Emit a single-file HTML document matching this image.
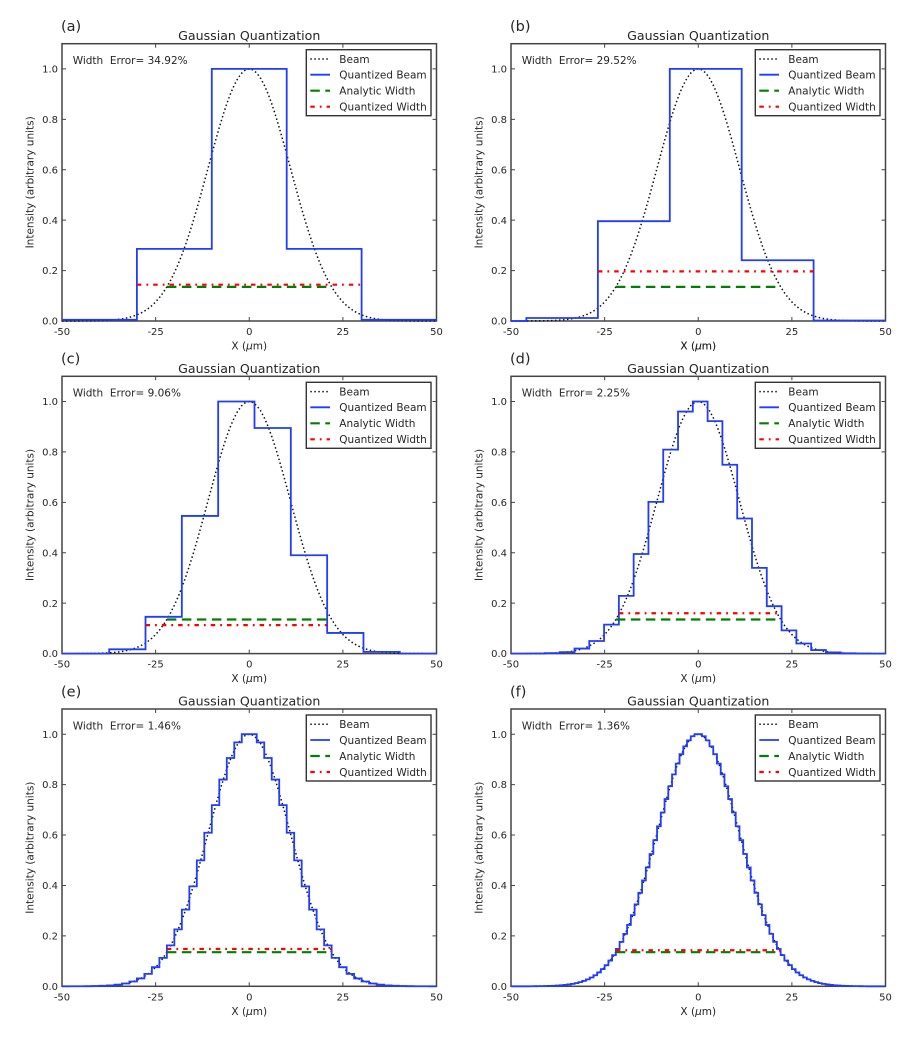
<!DOCTYPE html>
<html><head><meta charset="utf-8"><style>
html,body{margin:0;padding:0;background:#fff;}
svg{display:block;}
text{font-family:"DejaVu Sans","Liberation Sans",sans-serif;fill:#262626;}
.pl{font-size:14.5px;}
.ti{font-size:12.6px;text-anchor:middle;}
.tk{font-size:10px;}
.ty{font-size:10px;text-anchor:end;}
.tx{font-size:10px;text-anchor:middle;}
.lg{font-size:10.5px;}
.ax{font-size:10.5px;text-anchor:middle;}
.fr{fill:none;stroke:#444;stroke-width:1.5;}
.tc{fill:none;stroke:#444;stroke-width:1;}
.bm{fill:none;stroke:#111;stroke-width:1.5;stroke-dasharray:1.5 2.5;}
.bl{fill:none;stroke:#1f3cff;stroke-width:1.8;}
.gr{fill:none;stroke:#008000;stroke-width:2.2;stroke-dasharray:9.5 5.5;}
.rd{fill:none;stroke:#ff0000;stroke-width:2.2;stroke-dasharray:4.5 5 1.8 5;}
.lf{fill:#fff;stroke:#333;stroke-width:1.4;}
</style></head><body>
<svg width="921" height="1058" viewBox="0 0 921 1058" xmlns="http://www.w3.org/2000/svg">

<!-- ============ PANEL A ============ -->
<g transform="translate(62,321)">
<text class="pl" x="-1" y="-290">(a)</text>
<text class="ti" x="187.25" y="-280.8">Gaussian Quantization</text>
<rect class="fr" x="0" y="-277.3" width="374.5" height="277.3"/>
<path class="tc" d="M93.63,0v-4M187.25,0v-4M280.88,0v-4M93.63,-277.3v4M187.25,-277.3v4M280.88,-277.3v4M0,-50.42h4M0,-100.84h4M0,-151.26h4M0,-201.68h4M0,-252.1h4M374.5,-50.42h-4M374.5,-100.84h-4M374.5,-151.26h-4M374.5,-201.68h-4M374.5,-252.1h-4"/>
<text class="ty" x="-4" y="3.6">0.0</text><text class="ty" x="-4" y="-46.8">0.2</text><text class="ty" x="-4" y="-97.2">0.4</text><text class="ty" x="-4" y="-147.7">0.6</text><text class="ty" x="-4" y="-198.1">0.8</text><text class="ty" x="-4" y="-248.5">1.0</text>
<text class="tx" x="0" y="14">-50</text><text class="tx" x="93.63" y="14">-25</text><text class="tx" x="187.25" y="14">0</text><text class="tx" x="280.88" y="14">25</text><text class="tx" x="374.5" y="14">50</text>
<text class="ax" transform="translate(-28.3,-138.65) rotate(-90)">Intensity (arbitrary units)</text>
<path class="bm" d="M0,0 L7.49,-0.02 14.98,-0.04 22.47,-0.08 29.96,-0.17 37.45,-0.34 41.2,-0.47 44.94,-0.65 48.69,-0.88 52.43,-1.19 56.18,-1.6 59.92,-2.12 63.67,-2.8 67.41,-3.66 71.16,-4.75 74.9,-6.12 78.65,-7.8 82.39,-9.87 86.14,-12.4 89.88,-15.43 93.63,-19.05 97.37,-23.33 101.12,-28.33 104.86,-34.12 108.61,-40.75 112.35,-48.28 116.1,-56.71 119.84,-66.09 123.59,-76.37 127.33,-87.53 131.08,-99.49 134.82,-112.16 138.57,-125.4 142.31,-139.05 146.06,-152.91 149.8,-166.77 153.55,-180.39 157.29,-193.52 161.04,-205.89 164.78,-217.25 168.53,-227.36 172.27,-235.97 176.02,-242.9 179.76,-247.97 183.51,-251.06 187.25,-252.1 191,-251.06 194.74,-247.97 198.49,-242.9 202.23,-235.97 205.98,-227.36 209.72,-217.25 213.47,-205.89 217.21,-193.52 220.96,-180.39 224.7,-166.77 228.45,-152.91 232.19,-139.05 235.94,-125.4 239.68,-112.16 243.43,-99.49 247.17,-87.53 250.92,-76.37 254.66,-66.09 258.41,-56.71 262.15,-48.28 265.9,-40.75 269.64,-34.12 273.39,-28.33 277.13,-23.33 280.88,-19.05 284.62,-15.43 288.37,-12.4 292.11,-9.87 295.86,-7.8 299.6,-6.12 303.35,-4.75 307.09,-3.66 310.84,-2.8 314.58,-2.12 318.33,-1.6 322.07,-1.19 325.82,-0.88 329.56,-0.65 333.31,-0.47 337.05,-0.34 344.54,-0.17 352.03,-0.08 359.52,-0.04 367.01,-0.02 374.5,0"/>
<path class="bl" d="M0,-1.26 H74.9 V-72.1 H149.8 V-252.1 H224.7 V-72.1 H299.6 V-1.26 H374.5"/>
<path class="gr" d="M104.86,-34.12 H269.64"/>
<path class="rd" d="M74.9,-36.3 H299.6"/>
<text class="lg" x="10.7" y="-257">Width&#160; Error= 34.92%</text>
<rect class="lf" x="244.3" y="-271.3" width="124.7" height="66"/>
<path class="bm" d="M248.3,-262 H268"/><path class="bl" d="M248.3,-246.3 H268"/><path class="gr" d="M248.3,-230.3 H268"/><path class="rd" d="M248.3,-214.3 H268"/>
<text class="lg" x="277.3" y="-258.1">Beam</text><text class="lg" x="277.3" y="-242.4">Quantized Beam</text><text class="lg" x="277.3" y="-226.4">Analytic Width</text><text class="lg" x="277.3" y="-210.4">Quantized Width</text>
</g>

<!-- ============ PANEL B ============ -->
<g transform="translate(511,321)">
<text class="pl" x="-1" y="-290">(b)</text>
<text class="ti" x="187.25" y="-280.8">Gaussian Quantization</text>
<rect class="fr" x="0" y="-277.3" width="374.5" height="277.3"/>
<path class="tc" d="M93.63,0v-4M187.25,0v-4M280.88,0v-4M93.63,-277.3v4M187.25,-277.3v4M280.88,-277.3v4M0,-50.42h4M0,-100.84h4M0,-151.26h4M0,-201.68h4M0,-252.1h4M374.5,-50.42h-4M374.5,-100.84h-4M374.5,-151.26h-4M374.5,-201.68h-4M374.5,-252.1h-4"/>
<text class="ty" x="-4" y="3.6">0.0</text><text class="ty" x="-4" y="-46.8">0.2</text><text class="ty" x="-4" y="-97.2">0.4</text><text class="ty" x="-4" y="-147.7">0.6</text><text class="ty" x="-4" y="-198.1">0.8</text><text class="ty" x="-4" y="-248.5">1.0</text>
<text class="tx" x="0" y="14">-50</text><text class="tx" x="93.63" y="14">-25</text><text class="tx" x="187.25" y="14">0</text><text class="tx" x="280.88" y="14">25</text><text class="tx" x="374.5" y="14">50</text>
<text class="ax" x="187.25" y="28.5">X (<tspan font-style="italic">μ</tspan>m)</text>
<text class="ax" transform="translate(-28.3,-138.65) rotate(-90)">Intensity (arbitrary units)</text>
<path class="bm" d="M0,0 L7.49,-0.02 14.98,-0.04 22.47,-0.08 29.96,-0.17 37.45,-0.34 41.2,-0.47 44.94,-0.65 48.69,-0.88 52.43,-1.19 56.18,-1.6 59.92,-2.12 63.67,-2.8 67.41,-3.66 71.16,-4.75 74.9,-6.12 78.65,-7.8 82.39,-9.87 86.14,-12.4 89.88,-15.43 93.63,-19.05 97.37,-23.33 101.12,-28.33 104.86,-34.12 108.61,-40.75 112.35,-48.28 116.1,-56.71 119.84,-66.09 123.59,-76.37 127.33,-87.53 131.08,-99.49 134.82,-112.16 138.57,-125.4 142.31,-139.05 146.06,-152.91 149.8,-166.77 153.55,-180.39 157.29,-193.52 161.04,-205.89 164.78,-217.25 168.53,-227.36 172.27,-235.97 176.02,-242.9 179.76,-247.97 183.51,-251.06 187.25,-252.1 191,-251.06 194.74,-247.97 198.49,-242.9 202.23,-235.97 205.98,-227.36 209.72,-217.25 213.47,-205.89 217.21,-193.52 220.96,-180.39 224.7,-166.77 228.45,-152.91 232.19,-139.05 235.94,-125.4 239.68,-112.16 243.43,-99.49 247.17,-87.53 250.92,-76.37 254.66,-66.09 258.41,-56.71 262.15,-48.28 265.9,-40.75 269.64,-34.12 273.39,-28.33 277.13,-23.33 280.88,-19.05 284.62,-15.43 288.37,-12.4 292.11,-9.87 295.86,-7.8 299.6,-6.12 303.35,-4.75 307.09,-3.66 310.84,-2.8 314.58,-2.12 318.33,-1.6 322.07,-1.19 325.82,-0.88 329.56,-0.65 333.31,-0.47 337.05,-0.34 344.54,-0.17 352.03,-0.08 359.52,-0.04 367.01,-0.02 374.5,0"/>
<path class="bl" d="M0,0 H15.35 V-3.03 H86.88 V-99.83 H158.79 V-252.1 H230.69 V-60.76 H302.6 V-0.5 H374.5"/>
<path class="gr" d="M104.86,-34.12 H269.64"/>
<path class="rd" d="M86.88,-49.66 H302.6"/>
<text class="lg" x="10.7" y="-257">Width&#160; Error= 29.52%</text>
<rect class="lf" x="244.3" y="-271.3" width="124.7" height="66"/>
<path class="bm" d="M248.3,-262 H268"/><path class="bl" d="M248.3,-246.3 H268"/><path class="gr" d="M248.3,-230.3 H268"/><path class="rd" d="M248.3,-214.3 H268"/>
<text class="lg" x="277.3" y="-258.1">Beam</text><text class="lg" x="277.3" y="-242.4">Quantized Beam</text><text class="lg" x="277.3" y="-226.4">Analytic Width</text><text class="lg" x="277.3" y="-210.4">Quantized Width</text>
</g>

<!-- ============ PANEL C ============ -->
<g transform="translate(62,653.6)">
<text class="pl" x="-1" y="-290">(c)</text>
<text class="ti" x="187.25" y="-280.8">Gaussian Quantization</text>
<rect class="fr" x="0" y="-277.3" width="374.5" height="277.3"/>
<path class="tc" d="M93.63,0v-4M187.25,0v-4M280.88,0v-4M93.63,-277.3v4M187.25,-277.3v4M280.88,-277.3v4M0,-50.42h4M0,-100.84h4M0,-151.26h4M0,-201.68h4M0,-252.1h4M374.5,-50.42h-4M374.5,-100.84h-4M374.5,-151.26h-4M374.5,-201.68h-4M374.5,-252.1h-4"/>
<text class="ty" x="-4" y="3.6">0.0</text><text class="ty" x="-4" y="-46.8">0.2</text><text class="ty" x="-4" y="-97.2">0.4</text><text class="ty" x="-4" y="-147.7">0.6</text><text class="ty" x="-4" y="-198.1">0.8</text><text class="ty" x="-4" y="-248.5">1.0</text>
<text class="tx" x="0" y="14">-50</text><text class="tx" x="93.63" y="14">-25</text><text class="tx" x="187.25" y="14">0</text><text class="tx" x="280.88" y="14">25</text><text class="tx" x="374.5" y="14">50</text>
<text class="ax" x="187.25" y="-304.1">X (<tspan font-style="italic">μ</tspan>m)</text>
<text class="ax" transform="translate(-28.3,-138.65) rotate(-90)">Intensity (arbitrary units)</text>
<path class="bm" d="M0,0 L7.49,-0.02 14.98,-0.04 22.47,-0.08 29.96,-0.17 37.45,-0.34 41.2,-0.47 44.94,-0.65 48.69,-0.88 52.43,-1.19 56.18,-1.6 59.92,-2.12 63.67,-2.8 67.41,-3.66 71.16,-4.75 74.9,-6.12 78.65,-7.8 82.39,-9.87 86.14,-12.4 89.88,-15.43 93.63,-19.05 97.37,-23.33 101.12,-28.33 104.86,-34.12 108.61,-40.75 112.35,-48.28 116.1,-56.71 119.84,-66.09 123.59,-76.37 127.33,-87.53 131.08,-99.49 134.82,-112.16 138.57,-125.4 142.31,-139.05 146.06,-152.91 149.8,-166.77 153.55,-180.39 157.29,-193.52 161.04,-205.89 164.78,-217.25 168.53,-227.36 172.27,-235.97 176.02,-242.9 179.76,-247.97 183.51,-251.06 187.25,-252.1 191,-251.06 194.74,-247.97 198.49,-242.9 202.23,-235.97 205.98,-227.36 209.72,-217.25 213.47,-205.89 217.21,-193.52 220.96,-180.39 224.7,-166.77 228.45,-152.91 232.19,-139.05 235.94,-125.4 239.68,-112.16 243.43,-99.49 247.17,-87.53 250.92,-76.37 254.66,-66.09 258.41,-56.71 262.15,-48.28 265.9,-40.75 269.64,-34.12 273.39,-28.33 277.13,-23.33 280.88,-19.05 284.62,-15.43 288.37,-12.4 292.11,-9.87 295.86,-7.8 299.6,-6.12 303.35,-4.75 307.09,-3.66 310.84,-2.8 314.58,-2.12 318.33,-1.6 322.07,-1.19 325.82,-0.88 329.56,-0.65 333.31,-0.47 337.05,-0.34 344.54,-0.17 352.03,-0.08 359.52,-0.04 367.01,-0.02 374.5,0"/>
<path class="bl" d="M0,0 H47.19 V-4.29 H83.51 V-36.81 H119.84 V-137.65 H156.17 V-252.1 H192.49 V-225.63 H228.82 V-98.32 H265.15 V-20.67 H301.47 V-1.76 H337.8 V0 H374.5"/>
<path class="gr" d="M104.86,-34.12 H269.64"/>
<path class="rd" d="M83.51,-28.49 H265.15"/>
<text class="lg" x="10.7" y="-257">Width&#160; Error= 9.06%</text>
<rect class="lf" x="244.3" y="-271.3" width="124.7" height="66"/>
<path class="bm" d="M248.3,-262 H268"/><path class="bl" d="M248.3,-246.3 H268"/><path class="gr" d="M248.3,-230.3 H268"/><path class="rd" d="M248.3,-214.3 H268"/>
<text class="lg" x="277.3" y="-258.1">Beam</text><text class="lg" x="277.3" y="-242.4">Quantized Beam</text><text class="lg" x="277.3" y="-226.4">Analytic Width</text><text class="lg" x="277.3" y="-210.4">Quantized Width</text>
</g>

<!-- ============ PANEL D ============ -->
<g transform="translate(511,653.6)">
<text class="pl" x="-1" y="-290">(d)</text>
<text class="ti" x="187.25" y="-280.8">Gaussian Quantization</text>
<rect class="fr" x="0" y="-277.3" width="374.5" height="277.3"/>
<path class="tc" d="M93.63,0v-4M187.25,0v-4M280.88,0v-4M93.63,-277.3v4M187.25,-277.3v4M280.88,-277.3v4M0,-50.42h4M0,-100.84h4M0,-151.26h4M0,-201.68h4M0,-252.1h4M374.5,-50.42h-4M374.5,-100.84h-4M374.5,-151.26h-4M374.5,-201.68h-4M374.5,-252.1h-4"/>
<text class="ty" x="-4" y="3.6">0.0</text><text class="ty" x="-4" y="-46.8">0.2</text><text class="ty" x="-4" y="-97.2">0.4</text><text class="ty" x="-4" y="-147.7">0.6</text><text class="ty" x="-4" y="-198.1">0.8</text><text class="ty" x="-4" y="-248.5">1.0</text>
<text class="tx" x="0" y="14">-50</text><text class="tx" x="93.63" y="14">-25</text><text class="tx" x="187.25" y="14">0</text><text class="tx" x="280.88" y="14">25</text><text class="tx" x="374.5" y="14">50</text>
<text class="ax" x="187.25" y="28.5">X (<tspan font-style="italic">μ</tspan>m)</text>
<text class="ax" x="187.25" y="-304.1">X (<tspan font-style="italic">μ</tspan>m)</text>
<text class="ax" transform="translate(-28.3,-138.65) rotate(-90)">Intensity (arbitrary units)</text>
<path class="bm" d="M0,0 L7.49,-0.02 14.98,-0.04 22.47,-0.08 29.96,-0.17 37.45,-0.34 41.2,-0.47 44.94,-0.65 48.69,-0.88 52.43,-1.19 56.18,-1.6 59.92,-2.12 63.67,-2.8 67.41,-3.66 71.16,-4.75 74.9,-6.12 78.65,-7.8 82.39,-9.87 86.14,-12.4 89.88,-15.43 93.63,-19.05 97.37,-23.33 101.12,-28.33 104.86,-34.12 108.61,-40.75 112.35,-48.28 116.1,-56.71 119.84,-66.09 123.59,-76.37 127.33,-87.53 131.08,-99.49 134.82,-112.16 138.57,-125.4 142.31,-139.05 146.06,-152.91 149.8,-166.77 153.55,-180.39 157.29,-193.52 161.04,-205.89 164.78,-217.25 168.53,-227.36 172.27,-235.97 176.02,-242.9 179.76,-247.97 183.51,-251.06 187.25,-252.1 191,-251.06 194.74,-247.97 198.49,-242.9 202.23,-235.97 205.98,-227.36 209.72,-217.25 213.47,-205.89 217.21,-193.52 220.96,-180.39 224.7,-166.77 228.45,-152.91 232.19,-139.05 235.94,-125.4 239.68,-112.16 243.43,-99.49 247.17,-87.53 250.92,-76.37 254.66,-66.09 258.41,-56.71 262.15,-48.28 265.9,-40.75 269.64,-34.12 273.39,-28.33 277.13,-23.33 280.88,-19.05 284.62,-15.43 288.37,-12.4 292.11,-9.87 295.86,-7.8 299.6,-6.12 303.35,-4.75 307.09,-3.66 310.84,-2.8 314.58,-2.12 318.33,-1.6 322.07,-1.19 325.82,-0.88 329.56,-0.65 333.31,-0.47 337.05,-0.34 344.54,-0.17 352.03,-0.08 359.52,-0.04 367.01,-0.02 374.5,0"/>
<path class="bl" d="M0,0 H19.1 V-0.13 H33.89 V-0.5 H48.69 V-1.51 H63.48 V-5.04 H78.27 V-12.6 H93.06 V-28.99 H107.86 V-57.73 H122.65 V-99.58 H137.44 V-151.76 H152.23 V-203.95 H167.03 V-242.02 H181.82 V-252.1 H196.61 V-232.44 H211.41 V-188.82 H226.2 V-135.13 H240.99 V-85.71 H255.78 V-47.39 H270.58 V-23.19 H285.37 V-10.08 H300.16 V-3.53 H314.95 V-1.26 H329.75 V-0.3 H344.54 V-0.08 H359.33 V0 H374.5"/>
<path class="gr" d="M104.86,-34.12 H269.64"/>
<path class="rd" d="M107.86,-40.34 H267.02"/>
<text class="lg" x="10.7" y="-257">Width&#160; Error= 2.25%</text>
<rect class="lf" x="244.3" y="-271.3" width="124.7" height="66"/>
<path class="bm" d="M248.3,-262 H268"/><path class="bl" d="M248.3,-246.3 H268"/><path class="gr" d="M248.3,-230.3 H268"/><path class="rd" d="M248.3,-214.3 H268"/>
<text class="lg" x="277.3" y="-258.1">Beam</text><text class="lg" x="277.3" y="-242.4">Quantized Beam</text><text class="lg" x="277.3" y="-226.4">Analytic Width</text><text class="lg" x="277.3" y="-210.4">Quantized Width</text>
</g>

<!-- ============ PANEL E ============ -->
<g transform="translate(62,986.3)">
<text class="pl" x="-1" y="-290">(e)</text>
<text class="ti" x="187.25" y="-280.8">Gaussian Quantization</text>
<rect class="fr" x="0" y="-277.3" width="374.5" height="277.3"/>
<path class="tc" d="M93.63,0v-4M187.25,0v-4M280.88,0v-4M93.63,-277.3v4M187.25,-277.3v4M280.88,-277.3v4M0,-50.42h4M0,-100.84h4M0,-151.26h4M0,-201.68h4M0,-252.1h4M374.5,-50.42h-4M374.5,-100.84h-4M374.5,-151.26h-4M374.5,-201.68h-4M374.5,-252.1h-4"/>
<text class="ty" x="-4" y="3.6">0.0</text><text class="ty" x="-4" y="-46.8">0.2</text><text class="ty" x="-4" y="-97.2">0.4</text><text class="ty" x="-4" y="-147.7">0.6</text><text class="ty" x="-4" y="-198.1">0.8</text><text class="ty" x="-4" y="-248.5">1.0</text>
<text class="tx" x="0" y="14">-50</text><text class="tx" x="93.63" y="14">-25</text><text class="tx" x="187.25" y="14">0</text><text class="tx" x="280.88" y="14">25</text><text class="tx" x="374.5" y="14">50</text>
<text class="ax" x="187.25" y="28.5">X (<tspan font-style="italic">μ</tspan>m)</text>
<text class="ax" x="187.25" y="-304.2">X (<tspan font-style="italic">μ</tspan>m)</text>
<text class="ax" transform="translate(-28.3,-138.65) rotate(-90)">Intensity (arbitrary units)</text>
<path class="bm" d="M0,0 L7.49,-0.02 14.98,-0.04 22.47,-0.08 29.96,-0.17 37.45,-0.34 41.2,-0.47 44.94,-0.65 48.69,-0.88 52.43,-1.19 56.18,-1.6 59.92,-2.12 63.67,-2.8 67.41,-3.66 71.16,-4.75 74.9,-6.12 78.65,-7.8 82.39,-9.87 86.14,-12.4 89.88,-15.43 93.63,-19.05 97.37,-23.33 101.12,-28.33 104.86,-34.12 108.61,-40.75 112.35,-48.28 116.1,-56.71 119.84,-66.09 123.59,-76.37 127.33,-87.53 131.08,-99.49 134.82,-112.16 138.57,-125.4 142.31,-139.05 146.06,-152.91 149.8,-166.77 153.55,-180.39 157.29,-193.52 161.04,-205.89 164.78,-217.25 168.53,-227.36 172.27,-235.97 176.02,-242.9 179.76,-247.97 183.51,-251.06 187.25,-252.1 191,-251.06 194.74,-247.97 198.49,-242.9 202.23,-235.97 205.98,-227.36 209.72,-217.25 213.47,-205.89 217.21,-193.52 220.96,-180.39 224.7,-166.77 228.45,-152.91 232.19,-139.05 235.94,-125.4 239.68,-112.16 243.43,-99.49 247.17,-87.53 250.92,-76.37 254.66,-66.09 258.41,-56.71 262.15,-48.28 265.9,-40.75 269.64,-34.12 273.39,-28.33 277.13,-23.33 280.88,-19.05 284.62,-15.43 288.37,-12.4 292.11,-9.87 295.86,-7.8 299.6,-6.12 303.35,-4.75 307.09,-3.66 310.84,-2.8 314.58,-2.12 318.33,-1.6 322.07,-1.19 325.82,-0.88 329.56,-0.65 333.31,-0.47 337.05,-0.34 344.54,-0.17 352.03,-0.08 359.52,-0.04 367.01,-0.02 374.5,0"/>
<path class="bl" d="M0,0 H7.49 V-0.03 H14.98 V-0.06 H22.47 V-0.12 H29.96 V-0.24 H37.45 V-0.47 H44.94 V-0.88 H52.43 V-1.6 H59.92 V-2.81 H67.41 V-4.77 H74.9 V-7.84 H82.39 V-12.45 H89.88 V-19.13 H97.37 V-28.45 H104.86 V-40.92 H112.35 V-56.95 H119.84 V-76.69 H127.33 V-99.9 H134.82 V-125.92 H142.31 V-153.54 H149.8 V-181.14 H157.29 V-206.74 H164.78 V-228.3 H172.27 V-243.9 H179.76 V-252.1 H194.74 V-243.9 H202.23 V-228.3 H209.72 V-206.74 H217.21 V-181.14 H224.7 V-153.54 H232.19 V-125.92 H239.68 V-99.9 H247.17 V-76.69 H254.66 V-56.95 H262.15 V-40.92 H269.64 V-28.45 H277.13 V-19.13 H284.62 V-12.45 H292.11 V-7.84 H299.6 V-4.77 H307.09 V-2.81 H314.58 V-1.6 H322.07 V-0.88 H329.56 V-0.47 H337.05 V-0.24 H344.54 V-0.12 H352.03 V-0.06 H359.52 V-0.03 H367.01 V0 H374.5"/>
<path class="gr" d="M104.86,-34.12 H269.64"/>
<path class="rd" d="M104.86,-37.31 H269.64"/>
<text class="lg" x="10.7" y="-257">Width&#160; Error= 1.46%</text>
<rect class="lf" x="244.3" y="-271.3" width="124.7" height="66"/>
<path class="bm" d="M248.3,-262 H268"/><path class="bl" d="M248.3,-246.3 H268"/><path class="gr" d="M248.3,-230.3 H268"/><path class="rd" d="M248.3,-214.3 H268"/>
<text class="lg" x="277.3" y="-258.1">Beam</text><text class="lg" x="277.3" y="-242.4">Quantized Beam</text><text class="lg" x="277.3" y="-226.4">Analytic Width</text><text class="lg" x="277.3" y="-210.4">Quantized Width</text>
</g>

<!-- ============ PANEL F ============ -->
<g transform="translate(511,986.3)">
<text class="pl" x="-1" y="-290">(f)</text>
<text class="ti" x="187.25" y="-280.8">Gaussian Quantization</text>
<rect class="fr" x="0" y="-277.3" width="374.5" height="277.3"/>
<path class="tc" d="M93.63,0v-4M187.25,0v-4M280.88,0v-4M93.63,-277.3v4M187.25,-277.3v4M280.88,-277.3v4M0,-50.42h4M0,-100.84h4M0,-151.26h4M0,-201.68h4M0,-252.1h4M374.5,-50.42h-4M374.5,-100.84h-4M374.5,-151.26h-4M374.5,-201.68h-4M374.5,-252.1h-4"/>
<text class="ty" x="-4" y="3.6">0.0</text><text class="ty" x="-4" y="-46.8">0.2</text><text class="ty" x="-4" y="-97.2">0.4</text><text class="ty" x="-4" y="-147.7">0.6</text><text class="ty" x="-4" y="-198.1">0.8</text><text class="ty" x="-4" y="-248.5">1.0</text>
<text class="tx" x="0" y="14">-50</text><text class="tx" x="93.63" y="14">-25</text><text class="tx" x="187.25" y="14">0</text><text class="tx" x="280.88" y="14">25</text><text class="tx" x="374.5" y="14">50</text>
<text class="ax" x="187.25" y="28.5">X (<tspan font-style="italic">μ</tspan>m)</text>
<text class="ax" transform="translate(-28.3,-138.65) rotate(-90)">Intensity (arbitrary units)</text>
<path class="bm" d="M0,0 L7.49,-0.02 14.98,-0.04 22.47,-0.08 29.96,-0.17 37.45,-0.34 41.2,-0.47 44.94,-0.65 48.69,-0.88 52.43,-1.19 56.18,-1.6 59.92,-2.12 63.67,-2.8 67.41,-3.66 71.16,-4.75 74.9,-6.12 78.65,-7.8 82.39,-9.87 86.14,-12.4 89.88,-15.43 93.63,-19.05 97.37,-23.33 101.12,-28.33 104.86,-34.12 108.61,-40.75 112.35,-48.28 116.1,-56.71 119.84,-66.09 123.59,-76.37 127.33,-87.53 131.08,-99.49 134.82,-112.16 138.57,-125.4 142.31,-139.05 146.06,-152.91 149.8,-166.77 153.55,-180.39 157.29,-193.52 161.04,-205.89 164.78,-217.25 168.53,-227.36 172.27,-235.97 176.02,-242.9 179.76,-247.97 183.51,-251.06 187.25,-252.1 191,-251.06 194.74,-247.97 198.49,-242.9 202.23,-235.97 205.98,-227.36 209.72,-217.25 213.47,-205.89 217.21,-193.52 220.96,-180.39 224.7,-166.77 228.45,-152.91 232.19,-139.05 235.94,-125.4 239.68,-112.16 243.43,-99.49 247.17,-87.53 250.92,-76.37 254.66,-66.09 258.41,-56.71 262.15,-48.28 265.9,-40.75 269.64,-34.12 273.39,-28.33 277.13,-23.33 280.88,-19.05 284.62,-15.43 288.37,-12.4 292.11,-9.87 295.86,-7.8 299.6,-6.12 303.35,-4.75 307.09,-3.66 310.84,-2.8 314.58,-2.12 318.33,-1.6 322.07,-1.19 325.82,-0.88 329.56,-0.65 333.31,-0.47 337.05,-0.34 344.54,-0.17 352.03,-0.08 359.52,-0.04 367.01,-0.02 374.5,0"/>
<path class="bl" d="M0,0 H18.73 V-0.07 H22.47 V-0.1 H26.22 V-0.14 H29.96 V-0.2 H33.71 V-0.29 H37.45 V-0.4 H41.2 V-0.55 H44.94 V-0.76 H48.69 V-1.03 H52.43 V-1.38 H56.18 V-1.85 H59.92 V-2.44 H63.67 V-3.21 H67.41 V-4.18 H71.16 V-5.4 H74.9 V-6.92 H78.65 V-8.79 H82.39 V-11.08 H86.14 V-13.86 H89.88 V-17.18 H93.63 V-21.13 H97.37 V-25.76 H101.12 V-31.15 H104.86 V-37.36 H108.61 V-44.45 H112.35 V-52.44 H116.1 V-61.35 H119.84 V-71.19 H123.59 V-81.93 H127.33 V-93.51 H131.08 V-105.85 H134.82 V-118.84 H138.57 V-132.31 H142.31 V-146.11 H146.06 V-160.03 H149.8 V-173.81 H153.55 V-187.22 H157.29 V-200.02 H161.04 V-211.93 H164.78 V-222.71 H168.53 V-232.1 H172.27 V-239.9 H176.02 V-245.93 H179.76 V-250.03 H183.51 V-252.1 H191 V-250.03 H194.74 V-245.93 H198.49 V-239.9 H202.23 V-232.1 H205.98 V-222.71 H209.72 V-211.93 H213.47 V-200.02 H217.21 V-187.22 H220.96 V-173.81 H224.7 V-160.03 H228.45 V-146.11 H232.19 V-132.31 H235.94 V-118.84 H239.68 V-105.85 H243.43 V-93.51 H247.17 V-81.93 H250.92 V-71.19 H254.66 V-61.35 H258.41 V-52.44 H262.15 V-44.45 H265.9 V-37.36 H269.64 V-31.15 H273.39 V-25.76 H277.13 V-21.13 H280.88 V-17.18 H284.62 V-13.86 H288.37 V-11.08 H292.11 V-8.79 H295.86 V-6.92 H299.6 V-5.4 H303.35 V-4.18 H307.09 V-3.21 H310.84 V-2.44 H314.58 V-1.85 H318.33 V-1.38 H322.07 V-1.03 H325.82 V-0.76 H329.56 V-0.55 H333.31 V-0.4 H337.05 V-0.29 H340.8 V-0.2 H344.54 V-0.14 H348.29 V-0.1 H352.03 V-0.07 H355.78 V0 H374.5"/>
<path class="gr" d="M104.86,-34.12 H269.64"/>
<path class="rd" d="M104.86,-36.05 H269.64"/>
<text class="lg" x="10.7" y="-257">Width&#160; Error= 1.36%</text>
<rect class="lf" x="244.3" y="-271.3" width="124.7" height="66"/>
<path class="bm" d="M248.3,-262 H268"/><path class="bl" d="M248.3,-246.3 H268"/><path class="gr" d="M248.3,-230.3 H268"/><path class="rd" d="M248.3,-214.3 H268"/>
<text class="lg" x="277.3" y="-258.1">Beam</text><text class="lg" x="277.3" y="-242.4">Quantized Beam</text><text class="lg" x="277.3" y="-226.4">Analytic Width</text><text class="lg" x="277.3" y="-210.4">Quantized Width</text>
</g>

</svg>
</body></html>
